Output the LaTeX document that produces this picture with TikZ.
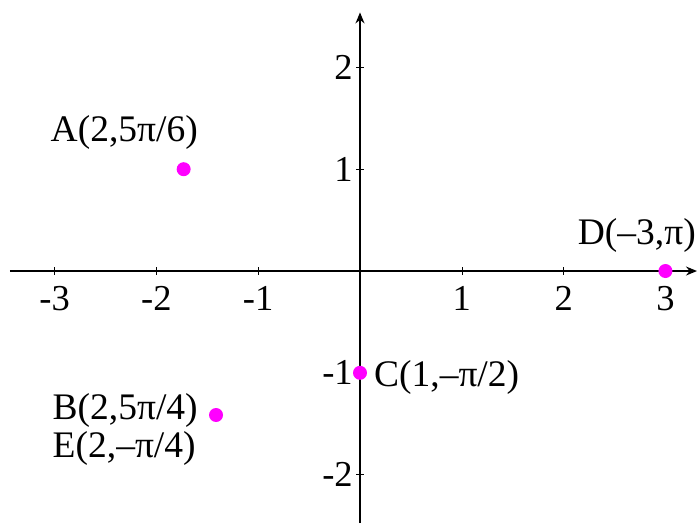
\documentclass[tikz,border=0pt]{standalone}
\usepackage{fontspec}
\setmainfont{Liberation Serif}
\usepackage{xcolor}
\usepackage{tikz}
\usetikzlibrary{arrows.meta, positioning}
\definecolor{polarmag}{HTML}{FF00FF}
\tikzset{
  axisline/.style={line width=1.3pt, black},
  polarpt/.style={circle, fill=polarmag, inner sep=0pt, minimum size=14pt},
  ptlabel/.style={inner sep=0pt, font=\fontsize{37.5}{42}\selectfont},
}
\begin{document}
\begin{tikzpicture}[x=101.8pt, y=101.8pt, font=\fontsize{36.5}{40}\selectfont]
  \useasboundingbox (-3.536,-2.475) rectangle (3.310,2.662);
  % axes
  \coordinate (xleft) at (-3.44,0);
  \coordinate (xright) at (3.31,0);
  \coordinate (ybot) at (0,-2.475);
  \coordinate (ytop) at (0,2.54);
  \draw[axisline, -{Stealth[length=11pt, width=9pt]}] (xleft) -- (xright);
  \draw[axisline, -{Stealth[length=11pt, width=9pt]}] (ybot) -- (ytop);
  % ticks
  \foreach \v [count=\i] in {-3,-2,-1,1,2,3}{
    \draw[line width=0.6pt] (\v,-0.035) -- (\v,0.035);
    \draw[line width=0.6pt] (-0.035,\v) -- (0.035,\v);
    \node[inner sep=0pt, anchor=north] (xtick\i) at (\v,-0.15) {\v};
  }
  \foreach \v [count=\i] in {-2,-1,1,2}{
    \node[inner sep=0pt, anchor=east] (ytick\i) at (-0.07,\v) {\v};
  }
  % points
  \node[polarpt] (A) at ({-sqrt(3)},1) {};
  \node[polarpt] (B) at ({-sqrt(2)},{-sqrt(2)}) {};
  \node[polarpt] (C) at (0,-1) {};
  \node[polarpt] (D) at (3,0) {};
  \node[ptlabel, anchor=west] (Alab) at (-3.04,1.36) {A(2,5π/6)};
  \node[ptlabel, anchor=west] (Blab) at (-3.02,-1.37) {B(2,5π/4)};
  \node[ptlabel, anchor=west] (Elab) at (-3.02,-1.74) {E(2,–π/4)};
  \node[ptlabel, anchor=west] (Clab) at (0.137,-1.05) {C(1,–π/2)};
  \node[ptlabel, anchor=east] (Dlab) at (3.30,0.35) {D(–3,π)};
\end{tikzpicture}
\end{document}
